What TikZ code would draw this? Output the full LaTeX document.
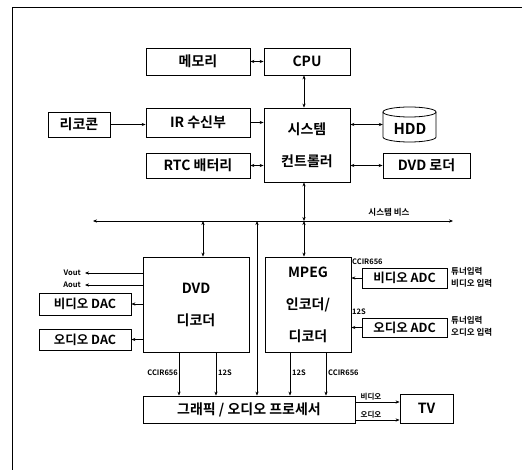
\documentclass[tikz,border=0pt]{standalone}
\usepackage{fontspec}
\setmainfont{Noto Sans CJK KR}[BoldFont={Noto Sans CJK KR Bold}]
\usetikzlibrary{arrows.meta}
\begin{document}
\begin{tikzpicture}[x=1pt,y=-1pt,
  blk/.style={draw,line width=0.8pt,inner sep=0pt,font=\bfseries\fontsize{14}{32}\selectfont,align=center},
  lbl/.style={inner sep=0pt,font=\bfseries\fontsize{7.5}{9}\selectfont},
  con/.style={line width=0.6pt},
  tip/.style={-{Stealth[length=4pt,width=3.2pt]}},
  dtip/.style={{Stealth[length=4pt,width=3.2pt]}-{Stealth[length=4pt,width=3.2pt]}}]
\useasboundingbox (0,0) rectangle (522,470);
% frame
\draw[line width=0.7pt] (12,470) -- (12,7) -- (522,7);
% boxes
\node[blk,minimum width=104,minimum height=27] (mem) at (198,61.5) {메모리};
\node[blk,minimum width=86,minimum height=27] (cpu) at (307,61.5) {CPU};
\node[blk,minimum width=62,minimum height=25] (remo) at (79,124.5) {리코콘};
\node[blk,minimum width=104,minimum height=29] (ir) at (198,122.5) {IR 수신부};
\node[blk,minimum width=86,minimum height=74] (ctrl) at (307,145) {시스템\\컨트롤러};
\node[blk,minimum width=104,minimum height=25] (rtc) at (198,165.5) {RTC 배터리};
\node[blk,minimum width=87,minimum height=25] (loader) at (426.5,165.5) {DVD 로더};
% HDD cylinder
\node[inner sep=0pt,minimum width=53,minimum height=35] (hdd) at (409.5,124.5) {};
\draw[line width=0.8pt] (409.5,112) ellipse[x radius=26.5,y radius=5];
\draw[line width=0.8pt] (383,112) -- (383,137)
  arc[start angle=180,end angle=0,x radius=26.5,y radius=5] -- (436,112);
\node[inner sep=0pt,font=\bfseries\fontsize{15}{18}\selectfont] (hddt) at (410,129) {HDD};
% bus
\coordinate (busL) at (93,221);
\coordinate (busR) at (453,221);
\draw[con,dtip] (busL) -- (busR);
\node[lbl,font=\bfseries\fontsize{8.5}{10}\selectfont] (buslbl) at (389,212) {시스템 비스};
% lower boxes
\node[blk,minimum width=106,minimum height=95] (dvd) at (196,304.5) {DVD\\디코더};
\node[blk,minimum width=86,minimum height=95] (mpeg) at (308,304.5) {MPEG\\인코더/\\디코더};
\node[blk,font=\bfseries\fontsize{12.5}{14}\selectfont,minimum width=92,minimum height=22] (vdac) at (85,304) {비디오 DAC};
\node[blk,font=\bfseries\fontsize{12.5}{14}\selectfont,minimum width=92,minimum height=21] (adac) at (85,339.5) {오디오 DAC};
\node[blk,font=\bfseries\fontsize{12.5}{14}\selectfont,minimum width=85,minimum height=20] (vadc) at (404.5,278) {비디오 ADC};
\node[blk,font=\bfseries\fontsize{12.5}{14}\selectfont,minimum width=85,minimum height=19] (aadc) at (404.5,327.5) {오디오 ADC};
\node[blk,minimum width=212,minimum height=27] (gp) at (249,409.5) {그래픽 / 오디오 프로세서};
\node[blk,minimum width=53,minimum height=29] (tv) at (426.5,408.5) {TV};
% upper connectors
\draw[con,dtip] (mem.east) -- (cpu.west);
\draw[con,dtip] ([xshift=-3]cpu.south) -- ([xshift=-3]ctrl.north);
\draw[con,tip] (remo.east) -- (remo.east -| ir.west);
\draw[con,tip] (ir.east) -- (ir.east -| ctrl.west);
\draw[con,dtip] (rtc.east) -- (rtc.east -| ctrl.west);
\draw[con,dtip] (ctrl.east |- hdd.center) -- (hdd.west);
\draw[con,dtip] (loader.west -| ctrl.east) -- (loader.west);
\draw[con,dtip] ([xshift=-3]ctrl.south) -- ([xshift=-3]ctrl.south |- busL);
% bus drops
\coordinate (bd) at (203,221);
\coordinate (bg) at (257,221);
\coordinate (bm) at (304,221);
\draw[con,dtip] (bd) -- (bd |- dvd.north);
\draw[con,dtip] (bg) -- (bg |- gp.north);
\draw[con,dtip] (bm) -- (bm |- mpeg.north);
% DVD outputs
\coordinate (vout) at (85,273);
\coordinate (aout) at (85,285);
\draw[con,tip] (vout -| dvd.west) -- (vout);
\draw[con,tip] (aout -| dvd.west) -- (aout);
\node[lbl,anchor=east] (voutl) at (81,273) {Vout};
\node[lbl,anchor=east] (aoutl) at (81,285) {Aout};
\draw[con,tip] (vdac.east -| dvd.west) -- (vdac.east);
\draw[con,tip] (adac.east -| dvd.west) -- (adac.east);
% ADC inputs
\draw[con,tip] (vadc.west) -- (vadc.west -| mpeg.east);
\draw[con,tip] (aadc.west) -- (aadc.west -| mpeg.east);
\node[lbl,anchor=west] (ccirA) at (352,262) {CCIR656};
\node[lbl,anchor=west] (i2sA) at (352,312) {12S};
\node[lbl,anchor=west,align=left,font=\bfseries\fontsize{8.5}{12.5}\selectfont] (tunerV) at (451,277.5) {튜너입력\\비디오 입력};
\node[lbl,anchor=west,align=left,font=\bfseries\fontsize{8.5}{12.5}\selectfont] (tunerA) at (451,326.5) {튜너입력\\오디오 입력};
% to graphics processor
\coordinate (d1) at (179,352);
\coordinate (d2) at (216,352);
\coordinate (m1) at (290,352);
\coordinate (m2) at (326,352);
\draw[con,tip] (d1) -- (d1 |- gp.north);
\draw[con,tip] (d2) -- (d2 |- gp.north);
\draw[con,tip] (m1) -- (m1 |- gp.north);
\draw[con,tip] (m2) -- (m2 |- gp.north);
\node[lbl,anchor=east] (ccirB) at (178,373) {CCIR656};
\node[lbl,anchor=west] (i2sB) at (218,373) {12S};
\node[lbl,anchor=west] (i2sC) at (292,373) {12S};
\node[lbl,anchor=west] (ccirC) at (328,373) {CCIR656};
% to TV
\coordinate (tvv) at (355,402);
\coordinate (tva) at (355,420);
\draw[con,tip] (tvv) -- (tvv -| tv.west);
\draw[con,tip] (tva) -- (tva -| tv.west);
\node[lbl,anchor=south] (vlab) at (371,400.5) {비디오};
\node[lbl,anchor=south] (alab) at (371,418.5) {오디오};
\end{tikzpicture}
\end{document}
